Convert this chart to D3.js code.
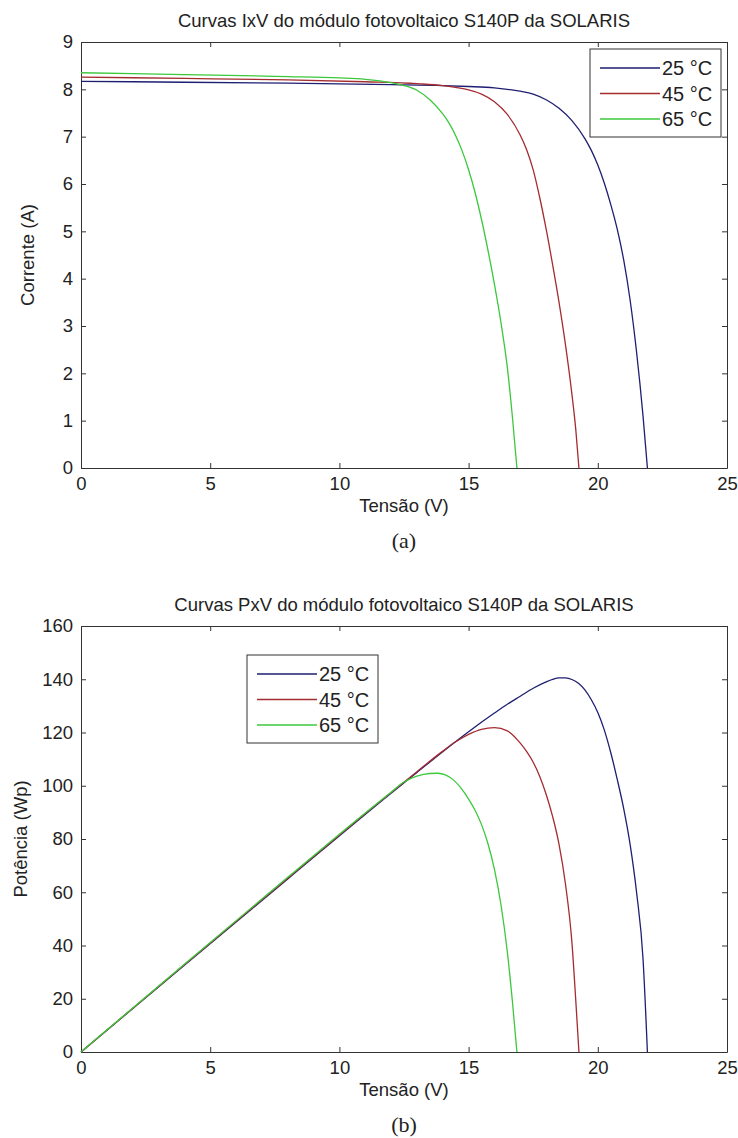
<!DOCTYPE html>
<html>
<head>
<meta charset="utf-8">
<script src="https://cdn.jsdelivr.net/npm/d3@7"></script>
<style>
  body{margin:0;background:#fff}
  svg text{font-family:"Liberation Sans",Arial,sans-serif;fill:#222}
</style>
</head>
<body>
<div id="chart"></div>
<script>
// values: [tensão (V), corrente (A)]
const iv25 = [[0,8.17],[4,8.15],[8,8.13],[12,8.10],[14,8.08],[15,8.06],[16,8.03],[16.5,8.00],[17,7.96],[17.5,7.90],[18,7.78],[18.5,7.60],[19,7.34],[19.5,6.96],[19.75,6.71],[20,6.40],[20.25,6.02],[20.5,5.57],[20.75,5.05],[21,4.40],[21.25,3.55],[21.5,2.45],[21.75,1.10],[21.92,0]]
const iv45 = [[0,8.26],[4,8.23],[8,8.20],[11,8.16],[13,8.12],[14,8.08],[14.5,8.04],[15,7.99],[15.5,7.90],[16,7.74],[16.5,7.47],[17,7.03],[17.25,6.72],[17.5,6.30],[17.75,5.72],[18,5.05],[18.25,4.30],[18.5,3.50],[18.75,2.60],[19,1.55],[19.15,0.80],[19.27,0]]
const iv65 = [[0,8.35],[4,8.31],[8,8.27],[10,8.24],[11,8.21],[12,8.14],[12.5,8.08],[13,7.98],[13.5,7.78],[14,7.48],[14.25,7.28],[14.5,7.02],[14.75,6.70],[15,6.30],[15.25,5.82],[15.5,5.25],[15.75,4.60],[16,3.88],[16.25,3.08],[16.5,2.12],[16.7,1.05],[16.87,0]]

// [tensão (V), potência (Wp)]
const pv25 = [[0,0],[4,32.6],[8,65.0],[12,97.2],[13,105.0],[14,112.8],[15,120.3],[16,127.3],[16.5,130.6],[17,133.6],[17.5,136.6],[18,139.0],[18.25,139.95],[18.5,140.5],[18.75,140.5],[19,139.9],[19.25,138.5],[19.5,136.0],[19.75,132.3],[20,127.5],[20.25,121],[20.5,112.5],[20.75,102.5],[21,91.5],[21.25,78],[21.5,60],[21.75,35],[21.92,0]]
const pv45 = [[0,0],[4,32.8],[8,65.3],[12,97.5],[13,105.3],[14,113],[14.5,116.5],[15,119.3],[15.5,121.2],[16,121.8],[16.5,120.6],[17,116],[17.25,112.8],[17.5,108.8],[17.75,103.6],[18,96.8],[18.25,88.5],[18.5,78],[18.75,63],[19,41],[19.15,19],[19.27,0]]
const pv65 = [[0,0],[4,33.0],[8,65.6],[11,89.8],[12,97.6],[12.5,101.4],[13,103.6],[13.5,104.6],[13.8,104.7],[14.1,104.1],[14.4,102.3],[14.7,99.2],[15,95.0],[15.25,90.8],[15.5,85.4],[15.75,78.2],[16,68.6],[16.25,55.5],[16.5,37.5],[16.7,18.5],[16.87,0]]

const seriesNames = ["25 °C","45 °C","65 °C"]
const seriesColors = ["#1e1e72","#a42c30","#3cc83c"]

const xTicks = [0,5,10,15,20,25]
const ivTicks = [0,1,2,3,4,5,6,7,8,9]
const pvTicks = [0,20,40,60,80,100,120,140,160]

const svg = d3.select("#chart")
  .append("svg")
  .attr("width",738)
  .attr("height",1138)

function drawPanel(cfg){

  const margin = {left:81, top:cfg.top}
  const width = 646
  const height = 426

  const g = svg.append("g")
    .attr("transform",`translate(${margin.left},${margin.top})`)

  const x = d3.scaleLinear().domain([0,25]).range([0,width])
  const y = d3.scaleLinear().domain(cfg.yDomain).range([height,0])

  // axes, ticks pointing inward on all four sides
  const axes = [
    [d3.axisBottom(x).tickValues(xTicks).tickPadding(9), `translate(0,${height})`],
    [d3.axisLeft(y).tickValues(cfg.yTicks).tickPadding(8), null],
    [d3.axisTop(x).tickValues(xTicks).tickFormat(""), null],
    [d3.axisRight(y).tickValues(cfg.yTicks).tickFormat(""), `translate(${width},0)`]
  ]
  axes.forEach(([ax,tr])=>{
    const a = g.append("g")
      .call(ax.tickSizeInner(-5).tickSizeOuter(0))
    if(tr) a.attr("transform",tr)
    a.selectAll("path,line").attr("stroke","#333")
    a.selectAll("text").style("font-size","18.5px").attr("fill","#222")
  })

  // curves
  const line = d3.line()
    .x(d=>x(d[0]))
    .y(d=>y(d[1]))
    .curve(d3.curveMonotoneX)

  g.selectAll(".curve")
    .data(cfg.series)
    .join("path")
    .attr("fill","none")
    .attr("stroke",(d,i)=>seriesColors[i])
    .attr("stroke-width",1.3)
    .attr("d",line)

  // titles
  g.append("text")
    .attr("x",width/2)
    .attr("y",-15)
    .attr("text-anchor","middle")
    .style("font-size","18.5px")
    .text(cfg.title)

  g.append("text")
    .attr("x",width/2)
    .attr("y",height+44)
    .attr("text-anchor","middle")
    .style("font-size","18.5px")
    .text("Tensão (V)")

  g.append("text")
    .attr("transform",`translate(${cfg.yLabelX},${height/2}) rotate(-90)`)
    .attr("text-anchor","middle")
    .style("font-size","18.5px")
    .text(cfg.yLabel)

  g.append("text")
    .attr("x",width/2)
    .attr("y",height+cfg.capOffset)
    .attr("text-anchor","middle")
    .style("font-family","'Liberation Serif',serif")
    .style("font-size","22px")
    .text(cfg.caption)

  // legend
  const lg = g.append("g")
    .attr("transform",`translate(${cfg.legend[0]},${cfg.legend[1]})`)

  lg.append("rect")
    .attr("width",131)
    .attr("height",88)
    .attr("fill","#fff")
    .attr("stroke","#333")

  seriesNames.forEach((name,i)=>{
    const yy = 19 + i*25.5
    lg.append("line")
      .attr("x1",10).attr("x2",70)
      .attr("y1",yy).attr("y2",yy)
      .attr("stroke",seriesColors[i])
      .attr("stroke-width",1.3)
    lg.append("text")
      .attr("x",72)
      .attr("y",yy+7)
      .style("font-size","20px")
      .text(name)
  })
}

drawPanel({
  top:42,
  yDomain:[0,9],
  yTicks:ivTicks,
  series:[iv25,iv45,iv65],
  title:"Curvas IxV do módulo fotovoltaico S140P da SOLARIS",
  yLabel:"Corrente (A)",
  yLabelX:-47,
  caption:"(a)",
  capOffset:80,
  legend:[509,7]
})

drawPanel({
  top:626,
  yDomain:[0,160],
  yTicks:pvTicks,
  series:[pv25,pv45,pv65],
  title:"Curvas PxV do módulo fotovoltaico S140P da SOLARIS",
  yLabel:"Potência (Wp)",
  yLabelX:-54,
  caption:"(b)",
  capOffset:80,
  legend:[166,29]
})
</script>
</body>
</html>
